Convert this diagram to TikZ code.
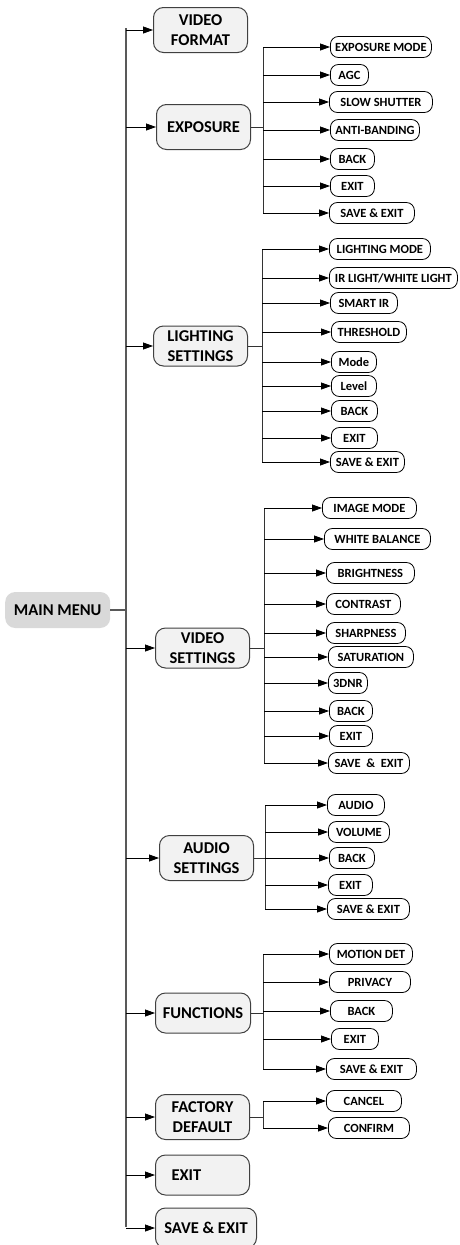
\documentclass[tikz,border=0pt]{standalone}
\usepackage{fontspec}
\setmainfont{Carlito}
\usetikzlibrary{arrows.meta}
\definecolor{boxfill}{HTML}{F2F2F2}
\definecolor{boxline}{HTML}{404040}
\definecolor{mainfill}{HTML}{D9D9D9}
\definecolor{spinecol}{HTML}{595959}
\tikzset{
  mainbox/.style={fill=mainfill, rounded corners=10pt, minimum height=36pt, minimum width=105pt,
    inner sep=0pt, font=\fontsize{16.5}{20}\selectfont\bfseries, anchor=west},
  topbox/.style={draw=boxline, line width=1pt, fill=boxfill, rounded corners=10pt, inner sep=0pt,
    align=center, font=\fontsize{16.5}{20}\selectfont\bfseries, anchor=west},
  leafbox/.style={draw=black, line width=0.8pt, fill=white, rounded corners=8pt, inner xsep=1pt,
    inner ysep=0pt, minimum height=21pt, font=\fontsize{12.5}{14}\selectfont\bfseries, anchor=west},
  arr/.style={draw=black, line width=0.8pt, -{Triangle[length=10pt,width=7pt]}},
  spine/.style={draw=spinecol, line width=1.1pt},
  branch/.style={draw=black!80, line width=0.8pt}
}
\newcommand\leafnode[5]{\node[leafbox, minimum width=#3pt] (#1) at (#2,#4) {#5};}
\begin{document}
\begin{tikzpicture}[x=1pt,y=-1pt]
\useasboundingbox (0,0) rectangle (459,1245);
% main menu
\node[mainbox] (mm) at (5,610) {MAIN MENU};
\coordinate (spT) at (126,28);
\coordinate (spB) at (126,1227);
\draw[spine] (spT) -- (spB);
\draw[spine] (mm.east) -- (mm.east -| spT);
% level 1
\node[topbox, minimum width=94pt, minimum height=45pt] (vf) at (153,30) {VIDEO\\FORMAT};
\node[topbox, minimum width=94pt, minimum height=45pt] (ex) at (156,127) {EXPOSURE};
\node[topbox, minimum width=94pt, minimum height=40pt] (ls) at (153,346) {LIGHTING\\SETTINGS};
\node[topbox, minimum width=94pt, minimum height=40pt] (vs) at (155,648) {VIDEO\\SETTINGS};
\node[topbox, minimum width=94pt, minimum height=45pt] (as) at (159,858) {AUDIO\\SETTINGS};
\node[topbox, minimum width=95pt, minimum height=40pt] (fn) at (155,1013) {FUNCTIONS};
\node[topbox, minimum width=94pt, minimum height=45pt] (fd) at (155,1117) {FACTORY\\DEFAULT};
\node[topbox, minimum width=94pt, minimum height=40pt, align=left, text width=94pt] (ext) at (155,1175) {\hspace*{16pt}EXIT};
\node[topbox, minimum width=101pt, minimum height=40pt] (se) at (155,1228) {SAVE \& EXIT};
\foreach \n in {vf,ex,ls,vs,as,fn,fd,ext,se}{
  \draw[arr] (spT |- \n.west) -- (\n.west);
}
% exposure leaves
\coordinate (bEx) at (263,127);
\leafnode{e1}{330}{101}{47}{EXPOSURE MODE}
\leafnode{e2}{330}{38}{75}{AGC}
\leafnode{e3}{329}{103}{102}{SLOW SHUTTER}
\leafnode{e4}{330}{89}{130}{ANTI-BANDING}
\leafnode{e5}{330}{44}{159}{BACK}
\leafnode{e6}{330}{44}{186}{EXIT}
\leafnode{e7}{329}{85}{213}{SAVE \& EXIT}
\draw[branch] (ex.east) -- (bEx);
\draw[branch] (bEx |- e1.west) -- (bEx |- e7.west);
\foreach \n in {e1,e2,e3,e4,e5,e6,e7}{\draw[arr] (bEx |- \n.west) -- (\n.west);}
% lighting leaves
\coordinate (bLs) at (262,346);
\leafnode{l1}{329}{101}{249}{LIGHTING MODE}
\leafnode{l2}{329}{128}{278}{IR LIGHT/WHITE LIGHT}
\leafnode{l3}{330}{67}{303}{SMART IR}
\leafnode{l4}{331}{75}{332}{THRESHOLD}
\leafnode{l5}{331}{45}{362}{Mode}
\leafnode{l6}{331}{45}{386}{Level}
\leafnode{l7}{331}{46}{411}{BACK}
\leafnode{l8}{331}{46}{438}{EXIT}
\leafnode{l9}{330}{74}{462}{SAVE \& EXIT}
\draw[branch] (ls.east) -- (bLs);
\draw[branch] (bLs |- l1.west) -- (bLs |- l9.west);
\foreach \n in {l1,l2,l3,l4,l5,l6,l7,l8,l9}{\draw[arr] (bLs |- \n.west) -- (\n.west);}
% video leaves
\coordinate (bVs) at (264,648);
\leafnode{v1}{322}{94}{508}{IMAGE MODE}
\leafnode{v2}{324}{106}{539}{WHITE BALANCE}
\leafnode{v3}{326}{88}{573}{BRIGHTNESS}
\leafnode{v4}{326}{74}{604}{CONTRAST}
\leafnode{v5}{326}{79}{633}{SHARPNESS}
\leafnode{v6}{328}{85}{657}{SATURATION}
\leafnode{v7}{328}{39}{683}{3DNR}
\leafnode{v8}{329}{43}{711}{BACK}
\leafnode{v9}{329}{43}{736}{EXIT}
\leafnode{v10}{328}{81}{763}{SAVE\ \ \&\ \ EXIT}
\draw[branch] (vs.east) -- (bVs);
\draw[branch] (bVs |- v1.west) -- (bVs |- v10.west);
\foreach \n in {v1,v2,v3,v4,v5,v6,v7,v8,v9,v10}{\draw[arr] (bVs |- \n.west) -- (\n.west);}
% audio leaves
\coordinate (bAs) at (265,858);
\leafnode{a1}{327}{57}{805}{AUDIO}
\leafnode{a2}{328}{61}{832}{VOLUME}
\leafnode{a3}{329}{45}{858}{BACK}
\leafnode{a4}{328}{44}{885}{EXIT}
\leafnode{a5}{327}{82}{909}{SAVE \& EXIT}
\draw[branch] (as.east) -- (bAs);
\draw[branch] (bAs |- a1.west) -- (bAs |- a5.west);
\foreach \n in {a1,a2,a3,a4,a5}{\draw[arr] (bAs |- \n.west) -- (\n.west);}
% functions leaves
\coordinate (bFn) at (263,1013);
\leafnode{f1}{329}{83}{954}{MOTION DET}
\leafnode{f2}{329}{81}{982}{PRIVACY}
\leafnode{f3}{330}{62}{1011}{BACK}
\leafnode{f4}{331}{47}{1039}{EXIT}
\leafnode{f5}{326}{90}{1069}{SAVE \& EXIT}
\draw[branch] (fn.east) -- (bFn);
\draw[branch] (bFn |- f1.west) -- (bFn |- f5.west);
\foreach \n in {f1,f2,f3,f4,f5}{\draw[arr] (bFn |- \n.west) -- (\n.west);}
% factory default leaves
\coordinate (bFd) at (263,1117);
\leafnode{d1}{326}{75}{1101}{CANCEL}
\leafnode{d2}{328}{81}{1128}{CONFIRM}
\draw[branch] (fd.east) -- (bFd);
\draw[branch] (bFd |- d1.west) -- (bFd |- d2.west);
\foreach \n in {d1,d2}{\draw[arr] (bFd |- \n.west) -- (\n.west);}
\end{tikzpicture}
\end{document}
